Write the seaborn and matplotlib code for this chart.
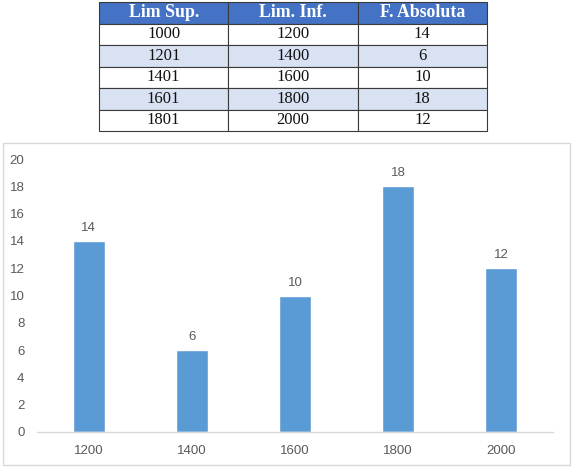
import matplotlib
matplotlib.use("Agg")
import matplotlib.pyplot as plt
import seaborn as sns
import pandas as pd
from matplotlib.patches import Rectangle

# table data
col_labels = ["Lim Sup.", "Lim. Inf.", "F. Absoluta"]
lim_sup = [1000, 1201, 1401, 1601, 1801]
lim_inf = [1200, 1400, 1600, 1800, 2000]
freq = [14, 6, 10, 18, 12]

sns.set_theme(style="white")
plt.rcParams['font.family'] = ['Liberation Sans', 'DejaVu Sans']

fig = plt.figure(figsize=(5.73, 4.68), dpi=100)

# ---- table on top ----
tab_ax = fig.add_axes([99 / 573, 1 - 131 / 468, (487 - 99) / 573, 129 / 468])
tab_ax.axis("off")
cell_text = [[str(a), str(b), str(c)] for a, b, c in zip(lim_sup, lim_inf, freq)]
row_colors = []
for i in range(len(cell_text)):
    c = "white" if i % 2 == 0 else "#D9E2F3"
    row_colors.append([c, c, c])
tbl = tab_ax.table(cellText=cell_text, colLabels=col_labels, cellColours=row_colors,
                   colColours=["#4472C4"] * 3, cellLoc="center", bbox=[0, 0, 1, 1])
tbl.auto_set_font_size(False)
for (r, c), cell in tbl.get_celld().items():
    cell.set_edgecolor("#3a3a3a")
    cell.set_linewidth(0.8)
    cell.get_text().set_fontfamily("Liberation Serif")
    cell.get_text().set_fontsize(12)
    if r == 0:
        cell.get_text().set_color("white")
        cell.get_text().set_fontweight("bold")
        cell.get_text().set_fontsize(12.8)
    else:
        cell.get_text().set_color("#111111")

# ---- chart frame ----
fig.patches.append(Rectangle((3 / 573, 3 / 468), 567 / 573, (465 - 143) / 468,
                             transform=fig.transFigure, fill=False,
                             edgecolor="#D9D9D9", linewidth=1))

# ---- bar chart ----
ax = fig.add_axes([37 / 573, 1 - 432 / 468, (553 - 37) / 573, (432 - 159) / 468])
df = pd.DataFrame({"lim": [str(v) for v in lim_inf], "freq": freq})
sns.barplot(data=df, x="lim", y="freq", color="#5B9BD5", width=0.31,
            saturation=1, ax=ax)
ax.set_ylim(0, 20)
ax.set_yticks(range(0, 21, 2))
ax.set_xlim(-0.5, len(lim_inf) - 0.5)
ax.set_xlabel("")
ax.set_ylabel("")
for s in ["top", "right", "left"]:
    ax.spines[s].set_visible(False)
ax.spines["bottom"].set_color("#D9D9D9")
ax.spines["bottom"].set_linewidth(1)
ax.tick_params(axis="y", length=0, pad=9, labelsize=9.5, labelcolor="#595959")
ax.tick_params(axis="x", length=0, pad=9, labelsize=9.5, labelcolor="#595959")
ax.bar_label(ax.containers[0], padding=5, fontsize=9.5, color="#595959")
ax.patch.set_alpha(0)

fig.savefig("out.png", dpi=100)
